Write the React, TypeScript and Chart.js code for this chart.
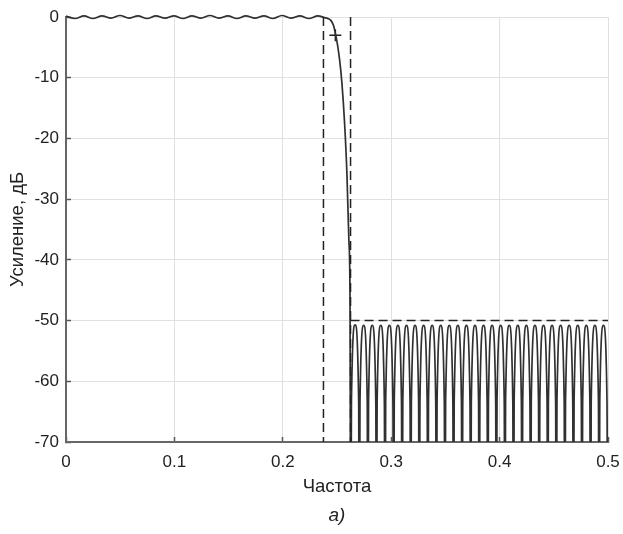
import React, { useEffect, useRef } from "react";
import { Chart, registerables } from "chart.js";

Chart.register(...registerables);

// ---- axis ticks ----
const xTickValues = [0, 0.1, 0.2, 0.3, 0.4, 0.5];
const xTickLabels = ["0", "0.1", "0.2", "0.3", "0.4", "0.5"];
const yTickValues = [0, -10, -20, -30, -40, -50, -60, -70];
const yTickLabels = ["0", "-10", "-20", "-30", "-40", "-50", "-60", "-70"];

// ---- passband ripple (frequency, gain dB) ----
const passbandFreq = [
  0, 0.0083, 0.0166, 0.0249, 0.0332, 0.0415, 0.0498, 0.0581, 0.0664, 0.0747,
  0.083, 0.0913, 0.0996, 0.1079, 0.1162, 0.1245, 0.1328, 0.1411, 0.1494, 0.1577,
  0.166, 0.1743, 0.1826, 0.1909, 0.1992, 0.2075, 0.2158, 0.2241, 0.2324,
];
const passbandGain = [
  0.15, -0.25, 0.2, -0.25, 0.2, -0.2, 0.25, -0.2, 0.2, -0.25,
  0.2, -0.2, 0.2, -0.25, 0.2, -0.2, 0.25, -0.2, 0.2, -0.25,
  0.2, -0.2, 0.2, -0.25, 0.25, -0.2, 0.2, -0.25, 0.2,
];

// ---- transition band ----
const transitionFreq = [0.2385, 0.2415, 0.2445, 0.2468, 0.2487, 0.2506, 0.2525, 0.2545, 0.257, 0.2592, 0.261, 0.262];
const transitionGain = [-0.1, -0.25, -0.6, -1.4, -2.9, -4.7, -7.2, -10.8, -17.5, -26, -37, -46];

// ---- stopband lobes ----
const stopNullFreq = [
  0.2627, 0.2706, 0.2785, 0.2864, 0.2943, 0.3022, 0.3101, 0.318, 0.3259, 0.3338,
  0.3417, 0.3496, 0.3575, 0.3654, 0.3733, 0.3812, 0.3891, 0.397, 0.4049, 0.4128,
  0.4207, 0.4286, 0.4365, 0.4444, 0.4523, 0.4602, 0.4681, 0.476, 0.4839, 0.4918, 0.5,
];
const stopRiseFreq = [
  0.2633, 0.2712, 0.2791, 0.287, 0.2949, 0.3028, 0.3107, 0.3186, 0.3265, 0.3344,
  0.3423, 0.3502, 0.3581, 0.366, 0.3739, 0.3818, 0.3897, 0.3976, 0.4055, 0.4134,
  0.4213, 0.4292, 0.4371, 0.445, 0.4529, 0.4608, 0.4687, 0.4766, 0.4845, 0.4924,
];
const stopPeakFreq = [
  0.2667, 0.2746, 0.2825, 0.2904, 0.2983, 0.3062, 0.3141, 0.322, 0.3299, 0.3378,
  0.3457, 0.3536, 0.3615, 0.3694, 0.3773, 0.3852, 0.3931, 0.401, 0.4089, 0.4168,
  0.4247, 0.4326, 0.4405, 0.4484, 0.4563, 0.4642, 0.4721, 0.48, 0.4879, 0.4958,
];
const stopFallFreq = [
  0.27, 0.2779, 0.2858, 0.2937, 0.3016, 0.3095, 0.3174, 0.3253, 0.3332, 0.3411,
  0.349, 0.3569, 0.3648, 0.3727, 0.3806, 0.3885, 0.3964, 0.4043, 0.4122, 0.4201,
  0.428, 0.4359, 0.4438, 0.4517, 0.4596, 0.4675, 0.4754, 0.4833, 0.4912, 0.4991,
];
const stopPeakGain = [
  -50.7, -50.8, -50.8, -50.8, -50.8, -50.8, -50.8, -50.8, -50.8, -50.8,
  -50.8, -50.8, -50.8, -50.8, -50.8, -50.8, -50.8, -50.8, -50.8, -50.8,
  -50.8, -50.8, -50.8, -50.8, -50.8, -50.8, -50.8, -50.8, -50.8, -50.8,
];
const stopNullGain = -100;
const stopShoulderGain = -63.5;

// ---- specification lines and -3 dB marker ----
const passEdgeFreq = 0.2375;
const stopEdgeFreq = 0.2625;
const stopAttenuation = -50;
const markerFreq = 0.2485;
const markerGain = -3;

const FONT = "'Liberation Sans', Arial, Helvetica, sans-serif";
const INK = "#222222";

function noScalePadding(s: any) {
  s.paddingTop = 0;
  s.paddingBottom = 0;
  s.paddingLeft = 0;
  s.paddingRight = 0;
}

export default function App() {
  const canvasRef = useRef<HTMLCanvasElement | null>(null);

  useEffect(() => {
    const canvas = canvasRef.current;
    if (!canvas) return;

    const response: { x: number; y: number }[] = [];
    passbandFreq.forEach((f, i) => response.push({ x: f, y: passbandGain[i] }));
    transitionFreq.forEach((f, i) => response.push({ x: f, y: transitionGain[i] }));
    stopPeakFreq.forEach((_, k) => {
      response.push({ x: stopNullFreq[k], y: stopNullGain });
      response.push({ x: stopRiseFreq[k], y: stopShoulderGain });
      response.push({ x: stopPeakFreq[k], y: stopPeakGain[k] });
      response.push({ x: stopFallFreq[k], y: stopShoulderGain });
    });
    response.push({ x: stopNullFreq[stopNullFreq.length - 1], y: stopNullGain });

    const dashed = {
      borderColor: INK,
      borderWidth: 1.5,
      borderDash: [9, 5],
      pointRadius: 0,
      tension: 0,
      fill: false,
    };

    const chart = new Chart(canvas, {
      type: "scatter",
      data: {
        datasets: [
          {
            data: [
              { x: passEdgeFreq, y: 0 },
              { x: passEdgeFreq, y: -70 },
            ],
            showLine: true,
            ...dashed,
          } as any,
          {
            data: [
              { x: stopEdgeFreq, y: 0 },
              { x: stopEdgeFreq, y: -70 },
            ],
            showLine: true,
            ...dashed,
          } as any,
          {
            data: [
              { x: stopEdgeFreq, y: stopAttenuation },
              { x: 0.5, y: stopAttenuation },
            ],
            showLine: true,
            ...dashed,
          } as any,
          {
            data: response,
            showLine: true,
            borderColor: "#303030",
            borderWidth: 1.7,
            pointRadius: 0,
            cubicInterpolationMode: "monotone",
            clip: { left: 1, top: 6, right: 1, bottom: 0 },
          } as any,
          {
            data: [{ x: markerFreq, y: markerGain }],
            showLine: false,
            pointStyle: "cross",
            pointRadius: 6,
            pointBorderWidth: 1.5,
            borderColor: INK,
            backgroundColor: INK,
          } as any,
        ],
      },
      options: {
        animation: false,
        responsive: false,
        devicePixelRatio: 1,
        layout: { padding: { left: 0, top: 17, right: 15, bottom: 36 } },
        plugins: {
          legend: { display: false },
          tooltip: { enabled: false },
        },
        scales: {
          x: {
            type: "linear",
            min: 0,
            max: 0.5,
            afterFit: (s: any) => {
              s.height = 56;
              noScalePadding(s);
            },
            afterBuildTicks: (s: any) => {
              s.ticks = xTickValues.map((v) => ({ value: v }));
            },
            ticks: {
              padding: 15,
              color: INK,
              font: { family: FONT, size: 17 },
              callback: (_v: any, i: number) => xTickLabels[i],
              maxRotation: 0,
            },
            grid: {
              color: "#e0e0e0",
              lineWidth: 1,
              drawTicks: true,
              tickLength: -5,
              tickColor: "#555555",
              tickWidth: 1.5,
            },
            border: { display: true, color: "#666666", width: 2 },
            title: {
              display: true,
              text: "Частота",
              color: INK,
              font: { family: FONT, size: 18.5 },
              padding: { top: 0, bottom: 0 },
            },
          },
          y: {
            type: "linear",
            min: -70,
            max: 0,
            afterFit: (s: any) => {
              s.width = 66;
              noScalePadding(s);
            },
            afterBuildTicks: (s: any) => {
              s.ticks = yTickValues.map((v) => ({ value: v }));
            },
            ticks: {
              padding: 12,
              color: INK,
              font: { family: FONT, size: 17 },
              callback: (_v: any, i: number) => yTickLabels[i],
            },
            grid: {
              color: "#e0e0e0",
              lineWidth: 1,
              drawTicks: true,
              tickLength: -5,
              tickColor: "#555555",
              tickWidth: 1.5,
            },
            border: { display: true, color: "#666666", width: 2 },
            title: {
              display: true,
              text: "Усиление, дБ",
              color: INK,
              font: { family: FONT, size: 18.5 },
              padding: { top: 7, bottom: 0 },
            },
          },
        },
      } as any,
    });

    return () => chart.destroy();
  }, []);

  return (
    <div
      style={{
        position: "fixed",
        left: 0,
        top: 0,
        width: 623,
        height: 534,
        background: "#ffffff",
      }}
    >
      <canvas ref={canvasRef} width={623} height={534} style={{ width: 623, height: 534, display: "block" }} />
      <div
        style={{
          position: "absolute",
          left: 66,
          width: 542,
          top: 504,
          textAlign: "center",
          fontFamily: FONT,
          fontStyle: "italic",
          fontSize: 19,
          color: INK,
        }}
      >
        а)
      </div>
    </div>
  );
}
